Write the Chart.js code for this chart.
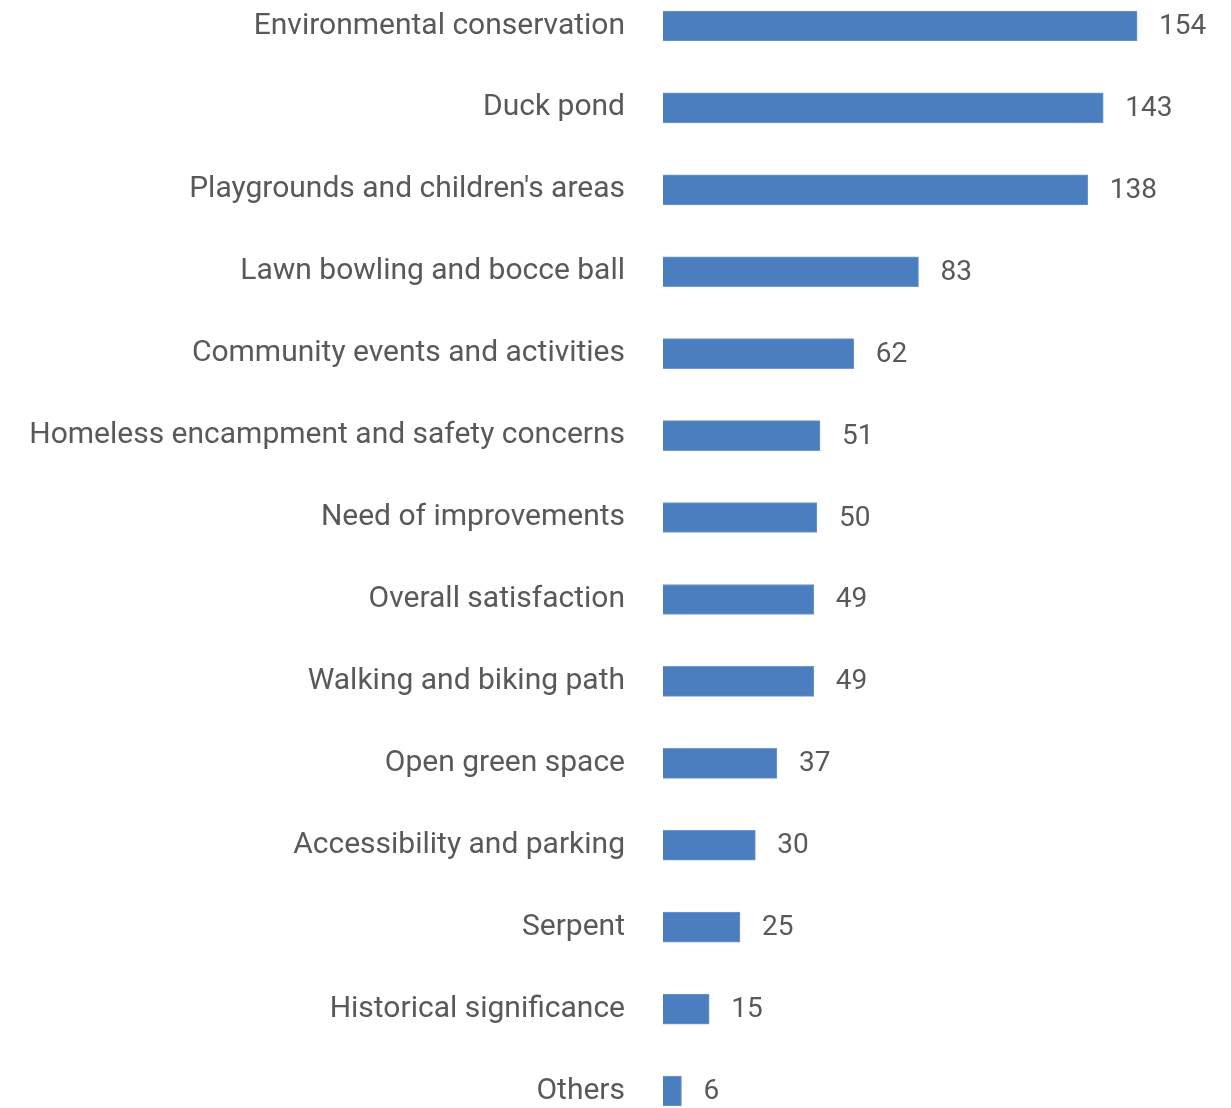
<!DOCTYPE html>
<html>
<head>
<meta charset="utf-8">
<script src="https://cdn.jsdelivr.net/npm/chart.js@4"></script>
<style>
  html, body { margin: 0; padding: 0; background: #fff; }
  #wrap { width: 1231px; height: 1108px; position: relative; }
</style>
</head>
<body>
<div id="wrap"><canvas id="chart"></canvas></div>
<script>
const categories = [
    "Environmental conservation",
    "Duck pond",
    "Playgrounds and children's areas",
    "Lawn bowling and bocce ball",
    "Community events and activities",
    "Homeless encampment and safety concerns",
    "Need of improvements",
    "Overall satisfaction",
    "Walking and biking path",
    "Open green space",
    "Accessibility and parking",
    "Serpent",
    "Historical significance",
    "Others"
];
const counts = [154, 143, 138, 83, 62, 51, 50, 49, 49, 37, 30, 25, 15, 6];

const textColor = "#595959";
const fontFamily = "Roboto, 'Noto Sans', sans-serif";

// draw the number just past the end of each bar
const valueLabels = {
    id: "valueLabels",
    afterDatasetsDraw(chart) {
        const ctx = chart.ctx;
        const meta = chart.getDatasetMeta(0);
        ctx.save();
        ctx.font = "28px " + fontFamily;
        ctx.fillStyle = textColor;
        ctx.textAlign = "left";
        ctx.textBaseline = "middle";
        meta.data.forEach((bar, i) => {
            ctx.fillText(String(counts[i]), bar.x + 22, bar.y + 1);
        });
        ctx.restore();
    }
};

new Chart("chart", {
    type: "bar",
    data: {
        labels: categories,
        datasets: [{
            data: counts,
            backgroundColor: "#4a7ebf",
            borderColor: "#6f98cc",
            borderWidth: 1,
            barThickness: 30,
            clip: false
        }]
    },
    options: {
        indexAxis: "y",
        responsive: true,
        maintainAspectRatio: false,
        animation: false,
        layout: { padding: { top: 26, bottom: 17, left: 0, right: 0 } },
        plugins: {
            legend: { display: false },
            tooltip: { enabled: false }
        },
        scales: {
            x: {
                display: false,
                min: 0,
                max: 184.5
            },
            y: {
                offset: false,
                grid: { display: false },
                border: { display: false },
                ticks: {
                    color: textColor,
                    font: { family: fontFamily, size: 30 },
                    padding: 30
                },
                afterFit(scale) {
                    scale.width = 663;
                    // no extra room for the first/last label
                    scale.paddingTop = 0;
                    scale.paddingBottom = 0;
                }
            }
        }
    },
    plugins: [valueLabels]
});
</script>
</body>
</html>
